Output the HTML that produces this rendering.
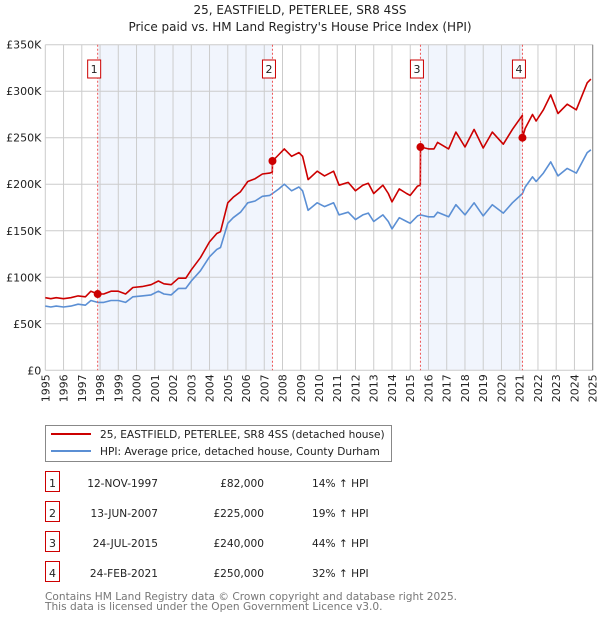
<!DOCTYPE html>
<html><head><meta charset="utf-8"><style>
body{margin:0;background:#fff;width:600px;height:620px;overflow:hidden;font-family:"DejaVu Sans","Liberation Sans",sans-serif}
svg text{font-family:"DejaVu Sans","Liberation Sans",sans-serif}
</style></head><body>
<svg id="chart" width="600" height="620" xmlns="http://www.w3.org/2000/svg">
<text x="300" y="14" text-anchor="middle" font-size="12" fill="#222">25, EASTFIELD, PETERLEE, SR8 4SS</text>
<text x="300" y="31" text-anchor="middle" font-size="12" fill="#222">Price paid vs. HM Land Registry's House Price Index (HPI)</text>
<g id="shade"></g><g id="grid"></g><g id="axes"></g><g id="series"></g><g id="marks"></g>
<g>
<rect x="45.5" y="425.5" width="346" height="36" fill="#fff" stroke="#888"/>
<line x1="51" y1="434" x2="91" y2="434" stroke="#cc0000" stroke-width="2"/>
<text x="100" y="438" font-size="10.6" fill="#222">25, EASTFIELD, PETERLEE, SR8 4SS (detached house)</text>
<line x1="51" y1="451" x2="91" y2="451" stroke="#5b8fd4" stroke-width="2"/>
<text x="100" y="455" font-size="10.6" fill="#222">HPI: Average price, detached house, County Durham</text>
</g>
<g id="table"></g>
<text x="45" y="600" font-size="10.6" fill="#777">Contains HM Land Registry data © Crown copyright and database right 2025.</text>
<text x="45" y="610" font-size="10.6" fill="#777">This data is licensed under the Open Government Licence v3.0.</text>
</svg>
<script>
const hpiT=[1995.0,1995.3,1995.6,1996.0,1996.4,1996.8,1997.2,1997.5,1997.87,1998.2,1998.6,1999.0,1999.4,1999.8,2000.3,2000.8,2001.2,2001.5,2001.9,2002.3,2002.7,2003.0,2003.5,2004.0,2004.4,2004.6,2005.0,2005.3,2005.7,2006.1,2006.5,2006.9,2007.3,2007.45,2007.8,2008.1,2008.5,2008.9,2009.1,2009.4,2009.9,2010.3,2010.8,2011.1,2011.6,2012.0,2012.4,2012.7,2013.0,2013.5,2013.8,2014.0,2014.4,2014.8,2015.0,2015.4,2015.56,2016.0,2016.3,2016.5,2017.1,2017.5,2018.0,2018.5,2019.0,2019.5,2020.1,2020.6,2021.15,2021.3,2021.7,2021.9,2022.3,2022.7,2023.1,2023.6,2024.1,2024.7,2024.9];
const hpiV=[69,68,69,68,69,71,70,75,73,73,75,75,73,79,80,81,85,82,81,88,88,96,107,122,130,132,158,164,170,180,182,187,188,190,195,200,193,197,193,172,180,176,180,167,170,162,167,169,160,167,160,152,164,160,158,166,167,165,165,170,165,178,167,180,166,178,169,180,190,197,208,203,212,224,209,217,212,234,237];
const priceT=[1995.0,1995.3,1995.6,1996.0,1996.4,1996.8,1997.2,1997.5,1997.87,1998.2,1998.6,1999.0,1999.4,1999.8,2000.3,2000.8,2001.2,2001.5,2001.9,2002.3,2002.7,2003.0,2003.5,2004.0,2004.4,2004.6,2005.0,2005.3,2005.7,2006.1,2006.5,2006.9,2007.3,2007.44,2007.45,2007.8,2008.1,2008.5,2008.9,2009.1,2009.4,2009.9,2010.3,2010.8,2011.1,2011.6,2012.0,2012.4,2012.7,2013.0,2013.5,2013.8,2014.0,2014.4,2014.8,2015.0,2015.4,2015.55,2015.56,2016.0,2016.3,2016.5,2017.1,2017.5,2018.0,2018.5,2019.0,2019.5,2020.1,2020.6,2021.14,2021.15,2021.3,2021.7,2021.9,2022.3,2022.7,2023.1,2023.6,2024.1,2024.7,2024.9];
const priceV=[78,77,78,77,78,80,79,85,82,82,85,85,82,89,90,92,96,93,92,99,99,108,121,138,147,149,180,186,192,203,206,211,212,213,225,232,238,230,234,230,205,214,209,214,199,202,193,199,201,190,199,190,181,195,190,188,198,199,240,238,238,245,238,256,240,259,239,256,243,259,274,250,260,275,268,280,296,276,286,280,309,313];
const saleT=[1997.87,2007.45,2015.56,2021.15];
const saleV=[82,225,240,250];
const saleLabels=["1","2","3","4"];
const saleDates=["12-NOV-1997","13-JUN-2007","24-JUL-2015","24-FEB-2021"];
const salePrices=["£82,000","£225,000","£240,000","£250,000"];
const saleHpi=["14% ↑ HPI","19% ↑ HPI","44% ↑ HPI","32% ↑ HPI"];
const yTicks=[0,50,100,150,200,250,300,350];
const yTickLabels=["£0","£50K","£100K","£150K","£200K","£250K","£300K","£350K"];
const xYears=[1995,1996,1997,1998,1999,2000,2001,2002,2003,2004,2005,2006,2007,2008,2009,2010,2011,2012,2013,2014,2015,2016,2017,2018,2019,2020,2021,2022,2023,2024,2025];

const NS="http://www.w3.org/2000/svg";
const X0=45.3,X1=592.7,Y0=370.3,Y1=44.7;
const xs=t=>X0+(t-1995)/30*(X1-X0);
const ys=v=>Y0-v/350*(Y0-Y1);
function mk(tag,attrs,parent){const e=document.createElementNS(NS,tag);for(const k in attrs)e.setAttribute(k,attrs[k]);parent.appendChild(e);return e;}
const shade=document.getElementById('shade'),grid=document.getElementById('grid'),axes=document.getElementById('axes'),series=document.getElementById('series'),marks=document.getElementById('marks'),table=document.getElementById('table');
mk('rect',{x:X0,y:Y1,width:X1-X0,height:Y0-Y1,fill:'#fff'},shade);
for(let i=0;i<4;i+=2){
  const r=mk('rect',{x:xs(saleT[i]),y:Y1,width:xs(saleT[i+1])-xs(saleT[i]),height:Y0-Y1,fill:'#eef3fc',opacity:0.8},shade);
  
  
}
yTicks.forEach((v,i)=>{
  const l=mk('line',{x1:X0,x2:X1,y1:ys(v),y2:ys(v),stroke:'#cccccc','stroke-width':1},grid);
  
  
  const t=mk('text',{x:X0-4,y:ys(v)+4,'text-anchor':'end','font-size':11,fill:'#222'},axes);
  t.textContent=yTickLabels[i];
  
  
});
xYears.forEach(y=>{
  const l=mk('line',{x1:xs(y),x2:xs(y),y1:Y1,y2:Y0,stroke:'#cccccc','stroke-width':1},grid);
  
  
  const x=xs(y)+4,yy=Y0+4;
  const t=mk('text',{x:x,y:yy,'text-anchor':'end','font-size':11,fill:'#222',transform:`rotate(-90 ${x} ${yy})`},axes);
  t.textContent=y;
  
  
});
saleT.forEach((t,i)=>{
  const l=mk('line',{x1:xs(t),x2:xs(t),y1:Y1,y2:Y0,stroke:'#ee5555','stroke-width':1,'stroke-dasharray':'2,2'},marks);
  
  
});
function path(T,V,color,name){
  const d=T.map((t,i)=>(i?'L':'M')+xs(t).toFixed(1)+','+ys(V[i]).toFixed(1)).join('');
  const p=mk('path',{d:d,fill:'none',stroke:color,'stroke-width':1.6,'stroke-linejoin':'round'},series);
  
  
}
path(hpiT,hpiV,'#5b8fd4','hpi-line');
path(priceT,priceV,'#cc0000','price-paid-line');
saleT.forEach((t,i)=>{
  const c=mk('circle',{cx:xs(t),cy:ys(saleV[i]),r:4,fill:'#cc0000'},marks);
  
  
  const bx=xs(t)-10;
  const g=mk('g',{},marks);
  
  
  mk('rect',{x:bx,y:60,width:13,height:18,fill:'#fff',stroke:'#cc0000','stroke-width':1},g);
  const tx=mk('text',{x:bx+6.5,y:73,'text-anchor':'middle','font-size':11,fill:'#222'},g);
  tx.textContent=saleLabels[i];
  const ry=483+i*30;
  const row=mk('g',{},table);
  
  
  mk('rect',{x:45.5,y:ry-11.5,width:14,height:20,fill:'#fff',stroke:'#cc0000','stroke-width':1},row);
  const n=mk('text',{x:52.5,y:ry+4,'text-anchor':'middle','font-size':11,fill:'#222'},row);n.textContent=saleLabels[i];
  const d=mk('text',{x:158,y:ry+4,'text-anchor':'end','font-size':10.6,fill:'#222'},row);d.textContent=saleDates[i];
  const p=mk('text',{x:264,y:ry+4,'text-anchor':'end','font-size':10.6,fill:'#222'},row);p.textContent=salePrices[i];
  const h=mk('text',{x:312,y:ry+4,'font-size':10.6,fill:'#222'},row);h.textContent=saleHpi[i];
});
mk('line',{x1:X1,x2:X1,y1:Y1,y2:Y0,stroke:'#888','stroke-width':1},axes);
</script>
</body></html>
